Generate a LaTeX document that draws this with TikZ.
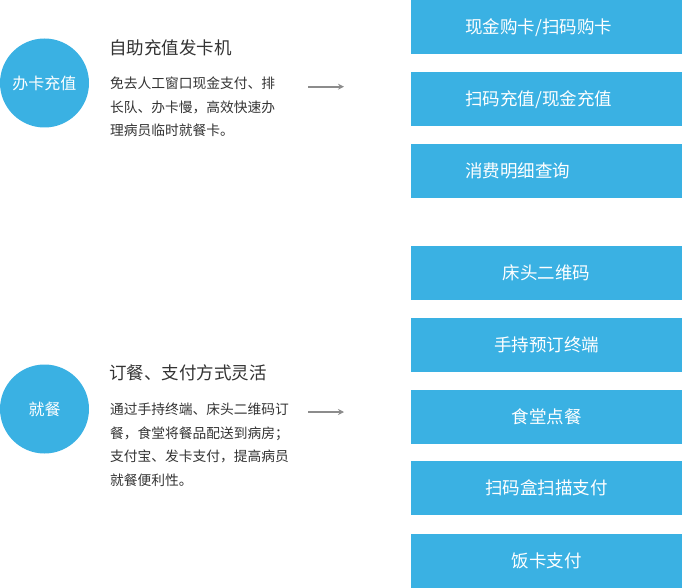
\documentclass[tikz,border=0pt]{standalone}
\usepackage{fontspec}
\setmainfont{Noto Sans CJK SC}
\usetikzlibrary{arrows.meta}
\definecolor{mblue}{HTML}{3AB1E3}
\definecolor{mtext}{HTML}{333333}
\definecolor{marrow}{HTML}{8C8C8C}
\tikzset{
  bubble/.style={circle, fill=mblue, draw=none, minimum size=89pt, inner sep=0pt,
    text=white, font=\fontsize{16}{18}\selectfont},
  heading/.style={anchor=base west, inner sep=0pt, text=mtext, font=\fontsize{17.5}{20}\selectfont},
  bodyline/.style={anchor=base west, inner sep=0pt, text=mtext, font=\fontsize{13.75}{16}\selectfont},
  panel/.style={anchor=north west, fill=mblue, draw=none, minimum height=54pt,
    inner xsep=54pt, inner ysep=0pt, text width=163pt, text=white,
    font=\fontsize{17.5}{20}\selectfont},
  panelL/.style={panel, align=left},
  panelC/.style={panel, align=center},
  flow/.style={-{Stealth[length=6pt,width=6pt]}, draw=marrow, line width=1.8pt},
}
\begin{document}
\begin{tikzpicture}[x=1pt,y=-1pt]
\useasboundingbox (0,0) rectangle (682,588);

% left circles
\node[bubble] (c1) at (44.5,83) {办卡充值};
\node[bubble] (c2) at (44.5,409) {就餐};

% block 1
\node[heading] (h1) at (109,54.2) {自助充值发卡机};
\node[bodyline] (b1a) at (110,88.7) {免去人工窗口现金支付、排};
\node[bodyline] (b1b) at (110,112.2) {长队、办卡慢，高效快速办};
\node[bodyline] (b1c) at (110,135.7) {理病员临时就餐卡。};

% block 2
\node[heading] (h2) at (109,379.2) {订餐、支付方式灵活};
\node[bodyline] (b2a) at (110,414.7) {通过手持终端、床头二维码订};
\node[bodyline] (b2b) at (110,438.2) {餐，食堂将餐品配送到病房；};
\node[bodyline] (b2c) at (110,461.7) {支付宝、发卡支付，提高病员};
\node[bodyline] (b2d) at (110,485.2) {就餐便利性。};

% arrows
\coordinate (a1s) at (308,86.7);
\coordinate (a1e) at (344,86.7);
\coordinate (a2s) at (308,412);
\coordinate (a2e) at (344,412);
\draw[flow] (a1s) -- (a1e);
\draw[flow] (a2s) -- (a2e);

% right panels
\node[panelL] (p1) at (411,0)   {现金购卡/扫码购卡};
\node[panelL] (p2) at (411,72)  {扫码充值/现金充值};
\node[panelL] (p3) at (411,144) {消费明细查询};
\node[panelC] (p4) at (411,246) {床头二维码};
\node[panelC] (p5) at (411,318) {手持预订终端};
\node[panelC] (p6) at (411,390) {食堂点餐};
\node[panelC] (p7) at (411,461) {扫码盒扫描支付};
\node[panelC] (p8) at (411,534) {饭卡支付};
\end{tikzpicture}
\end{document}
